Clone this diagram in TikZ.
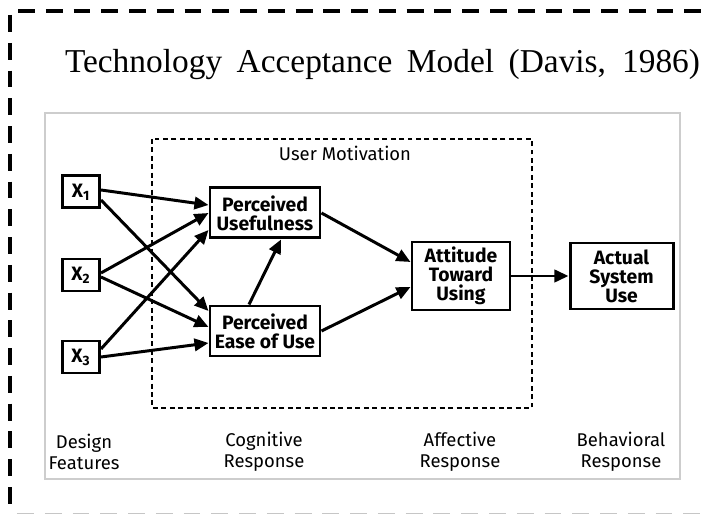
\documentclass[tikz,border=0pt]{standalone}
\usepackage{fontspec}
\setmainfont{Liberation Serif}
\setsansfont{Fira Sans}
\usepackage{tikz}
\usetikzlibrary{arrows.meta, positioning, calc}
\definecolor{framegray}{RGB}{205,205,205}
\tikzset{
  block/.style={rectangle, draw, line width=1.7pt, align=center,
    font=\sffamily\bfseries\fontsize{11}{10.8}\selectfont, inner sep=1pt},
  xblock/.style={block, minimum width=0.74cm, minimum height=0.64cm},
  arrow/.style={-{Triangle[length=8pt,width=7pt]}, line width=1.7pt},
  stage/.style={align=center, font=\sffamily\fontsize{10.5}{12}\selectfont},
  outerline/.style={line width=2.2pt, dash pattern=on 9.6pt off 6.2pt}
}

\begin{document}
\begin{tikzpicture}
  \useasboundingbox (0,0) rectangle (14.2,10.28);

  % Dashed outer border (right side runs off)
  \draw[outerline] (0.36,10.06) -- (14.2,10.06);
  \draw[outerline] (0.2,9.98) -- (0.2,0);
  \draw[outerline, gray!45, line width=1.6pt] (0.34,0) -- (14.2,0);

  % Title
  \node (title) at (7.65,8.98) {\fontsize{19}{22}\selectfont\makebox[12.7cm][s]{Technology Acceptance Model (Davis, 1986)}};

  % Figure frame and user motivation box
  \draw[framegray, line width=1.1pt] (0.9,8.02) rectangle (13.6,0.7);
  \draw[line width=1pt, dash pattern=on 2.8pt off 2pt] (3.04,7.5) rectangle (10.64,2.12);
  \node[stage] (motiv) at (6.9,7.22) {User Motivation};

  % Design features
  \node[xblock] (x1) at (1.62,6.44) {X\textsubscript{1}};
  \node[xblock] (x2) at (1.62,4.78) {X\textsubscript{2}};
  \node[xblock] (x3) at (1.62,3.14) {X\textsubscript{3}};

  % Cognitive, affective and behavioral blocks
  \node[block, minimum width=2.2cm, minimum height=1.0cm] (pu) at (5.3,6.02) {Perceived\\Usefulness};
  \node[block, minimum width=2.2cm, minimum height=1.0cm] (peou) at (5.3,3.66) {Perceived\\Ease of Use};
  \node[block, minimum width=1.96cm, minimum height=1.36cm] (atu) at (9.22,4.76) {Attitude\\Toward\\Using};
  \node[block, minimum width=2.06cm, minimum height=1.32cm] (asu) at (12.43,4.76) {Actual\\System\\Use};

  % Arrows
  \draw[arrow] ([yshift=0.04cm]x1.east) -- ([yshift=0.16cm]pu.west);
  \draw[arrow] ([yshift=-0.16cm]x1.east) -- ([yshift=0.4cm]peou.west);
  \draw[arrow] ([yshift=0.04cm]x2.east) -- (pu.west);
  \draw[arrow] ([yshift=-0.04cm]x2.east) -- ([yshift=0.08cm]peou.west);
  \draw[arrow] ([yshift=0.16cm]x3.east) -- ([yshift=-0.34cm]pu.west);
  \draw[arrow] (x3.east) -- ([yshift=-0.24cm]peou.west);
  \draw[arrow] ([xshift=-0.32cm]peou.north) -- ([xshift=0.32cm]pu.south);
  \draw[arrow] (pu.east) -- ([yshift=0.28cm]atu.west);
  \draw[arrow] (peou.east) -- ([yshift=-0.22cm]atu.west);
  \draw[arrow] (atu.east) -- (asu.west);

  % Stage labels
  \node[stage] (design) at (1.68,1.25) {Design\\Features};
  \node[stage] (cogn) at (5.28,1.25) {Cognitive\\Response};
  \node[stage] (affect) at (9.2,1.25) {Affective\\Response};
  \node[stage] (behav) at (12.42,1.25) {Behavioral\\Response};
\end{tikzpicture}
\end{document}
